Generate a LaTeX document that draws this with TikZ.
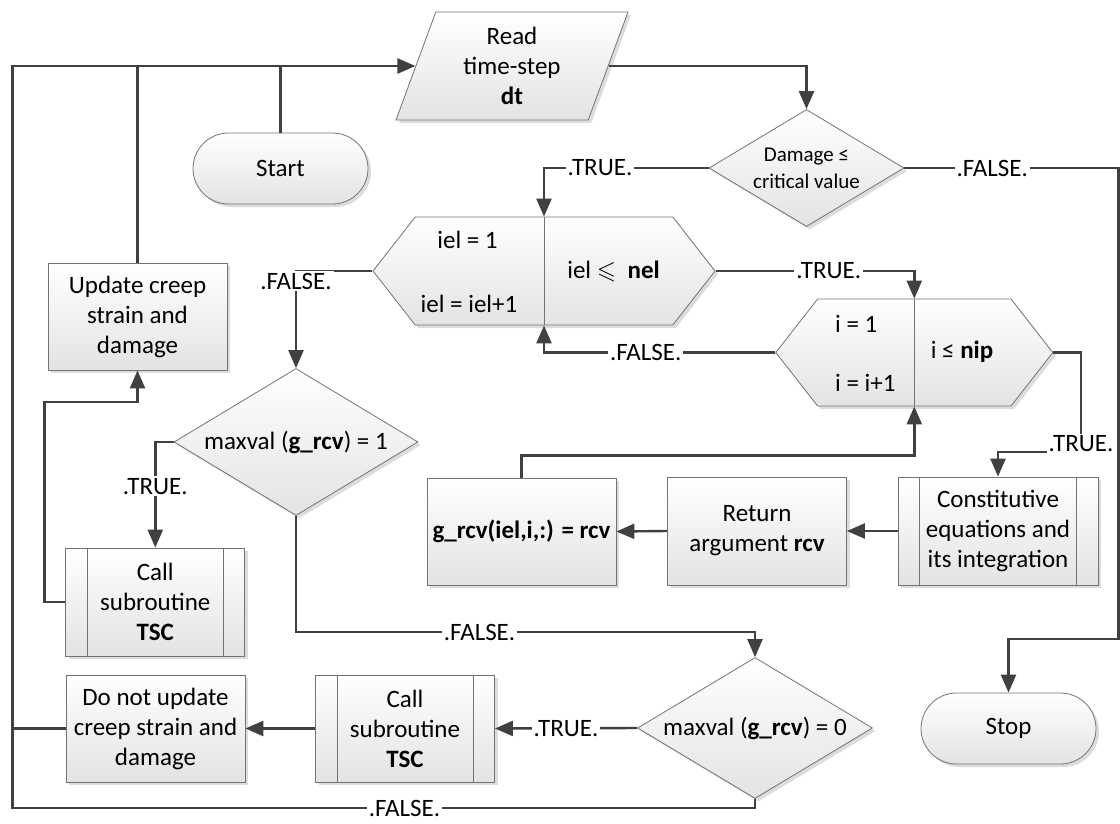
\documentclass[tikz,border=0pt]{standalone}
\usepackage{amssymb}
\usepackage{fontspec}
\setmainfont{Carlito}
\usetikzlibrary{shapes.geometric, shapes.misc, shapes.symbols, arrows.meta, shadows, positioning}

\begin{document}
\begin{tikzpicture}[x=1pt, y=-1pt,
    base/.style={draw=black!55, line width=0.8pt, top color=white, bottom color=black!11,
        drop shadow={shadow xshift=3pt, shadow yshift=-3pt, fill=black!30, opacity=0.45},
        font=\fontsize{25}{30}\selectfont, align=center, inner sep=2pt},
    proc/.style={base, rectangle, minimum width=179pt, minimum height=107pt},
    subr/.style={proc, path picture={
        \draw[black!55, line width=0.8pt]
            ([xshift=21.5pt]path picture bounding box.north west) -- ([xshift=21.5pt]path picture bounding box.south west)
            ([xshift=-21.5pt]path picture bounding box.north east) -- ([xshift=-21.5pt]path picture bounding box.south east);}},
    term/.style={base, rounded rectangle, minimum width=179pt, minimum height=71pt},
    io/.style={base, trapezium, trapezium left angle=64, trapezium right angle=116,
        trapezium stretches body, minimum width=232pt, minimum height=108pt},
    dec/.style={base, diamond, shape aspect=1.66, inner sep=0pt},
    hexa/.style={base, signal, signal to=west and east, signal pointer angle=104},
    divline/.style={draw=black!55, line width=0.8pt},
    txt/.style={inner sep=0pt, font=\fontsize{25}{30}\selectfont},
    conn/.style={draw=black!75, line width=2.4pt},
    arr/.style={conn, -{Triangle[length=18pt, width=15pt]}},
    lbl/.style={fill=white, inner sep=2pt, font=\fontsize{25}{30}\selectfont}]

    \useasboundingbox (0,0) rectangle (1120,823);

    % 1. Start, reading the time step and the damage test
    \node[term] (start) at (280.5,168.5) {Start};
    \node[io] (read) at (512,66) {Read\\time-step\\\textbf{dt}};
    \node[dec, minimum width=195pt, minimum height=117pt, font=\fontsize{21}{27}\selectfont]
        (dmg) at (806.5,168) {Damage ≤\\critical value};
    \node[term] (stop) at (1008.5,728.5) {Stop};

    % 2. Loop over elements (iel) and integration points (i)
    \node[hexa, minimum width=342pt, minimum height=108pt] (h1) at (544,271) {};
    \draw[divline] (h1.north) -- (h1.south);
    \node[txt] (h1a) at (467.5,240) {iel = 1};
    \node[txt] (h1b) at (469,304) {iel = iel+1};
    \node[txt] (h1c) at (613.5,271) {iel $\leqslant$\ \ \textbf{nel}};

    \node[hexa, minimum width=277pt, minimum height=107pt] (h2) at (914.3,352.5) {};
    \draw[divline] (h2.north) -- (h2.south);
    \node[txt, anchor=west] (h2a) at (835,324) {i = 1};
    \node[txt, anchor=west] (h2b) at (835,383) {i = i+1};
    \node[txt] (h2c) at (962,352) {i ≤ \textbf{nip}};

    % 3. Process boxes of the inner loop
    \node[subr, minimum width=200pt, minimum height=108pt] (const) at (998,531)
        {Constitutive\\equations and\\its integration};
    \node[proc, minimum height=108pt] (ret) at (757,531) {Return\\argument \textbf{rcv}};
    \node[proc, minimum width=189pt] (grcv) at (521.5,531.5) {\textbf{g\_rcv(iel,i,:) = rcv}};

    % 4. Tests on g_rcv and the update boxes
    \node[dec, minimum width=244pt, minimum height=147pt] (mv1) at (296,442)
        {maxval (\textbf{g\_rcv}) = 1};
    \node[dec, minimum width=235pt, minimum height=141pt] (mv2) at (755,728)
        {maxval (\textbf{g\_rcv}) = 0};
    \node[proc] (upd) at (137.5,316.5) {Update creep\\strain and\\damage};
    \node[subr, minimum height=108pt] (tsc1) at (155.3,602) {Call\\subroutine\\\textbf{TSC}};
    \node[subr] (tsc2) at (405,728.5) {Call\\subroutine\\\textbf{TSC}};
    \node[proc] (dn) at (155.5,728.5) {Do not update\\creep strain and\\damage};

    % bend points of the connectors
    \coordinate (bl) at (12.5,808);
    \coordinate (c1) at (755,632);
    \coordinate (c2) at (44.6,402);
    \coordinate (c3) at (1118.5,639);
    \coordinate (c4) at (1081,452);

    % 5. Connectors
    \draw[conn] (start.north) -- (start.north |- read.west);
    \draw[conn] (upd.north) -- (upd.north |- read.west);
    \draw[arr] (read.east) -| (dmg.north);
    \draw[arr] (dmg.west) -| (h1.north) node[lbl, pos=0.33] (lt1) {.TRUE.};
    \draw[arr] (dmg.east) -| (c3) node[lbl, pos=0.205] (lf1) {.FALSE.} -| (stop.north);
    \draw[arr] (h1.west) -| (mv1.north) node[lbl, pos=0.5, yshift=-10pt] (lf2) {.FALSE.};
    \draw[arr] (h1.east) -| (h2.north) node[lbl, pos=0.285] (lt2) {.TRUE.};
    \draw[arr] (h2.west) -| (h1.south) node[lbl, pos=0.28] (lf3) {.FALSE.};
    \draw[arr] (h2.east) -| (c4) node[lbl, yshift=8pt] (lt3) {.TRUE.} -| (const.north);
    \draw[arr] (const.west) -- (ret.east);
    \draw[arr] (ret.west) -- (grcv.east);
    \draw[arr] (grcv.north) -- ++(0,-22) -| (h2.south);
    \draw[arr] (mv1.west) -| (tsc1.north) node[lbl, pos=0.71] (lt4) {.TRUE.};
    \draw[arr] (tsc1.west) -| (c2) -| (upd.south);
    \draw[arr] (mv1.south) |- (c1) node[lbl, pos=0.70] (lf4) {.FALSE.} -- (mv2.north);
    \draw[arr] (mv2.west) -- (tsc2.east) node[lbl, pos=0.5] (lt5) {.TRUE.};
    \draw[arr] (tsc2.west) -- (dn.east);
    \draw[conn] (dn.west) -- (dn.west -| bl);
    \draw[arr] (mv2.south) |- (bl) node[lbl, pos=0.736] (lf5) {.FALSE.}
        -- (bl |- read.west) -- (read.west);

\end{tikzpicture}
\end{document}
